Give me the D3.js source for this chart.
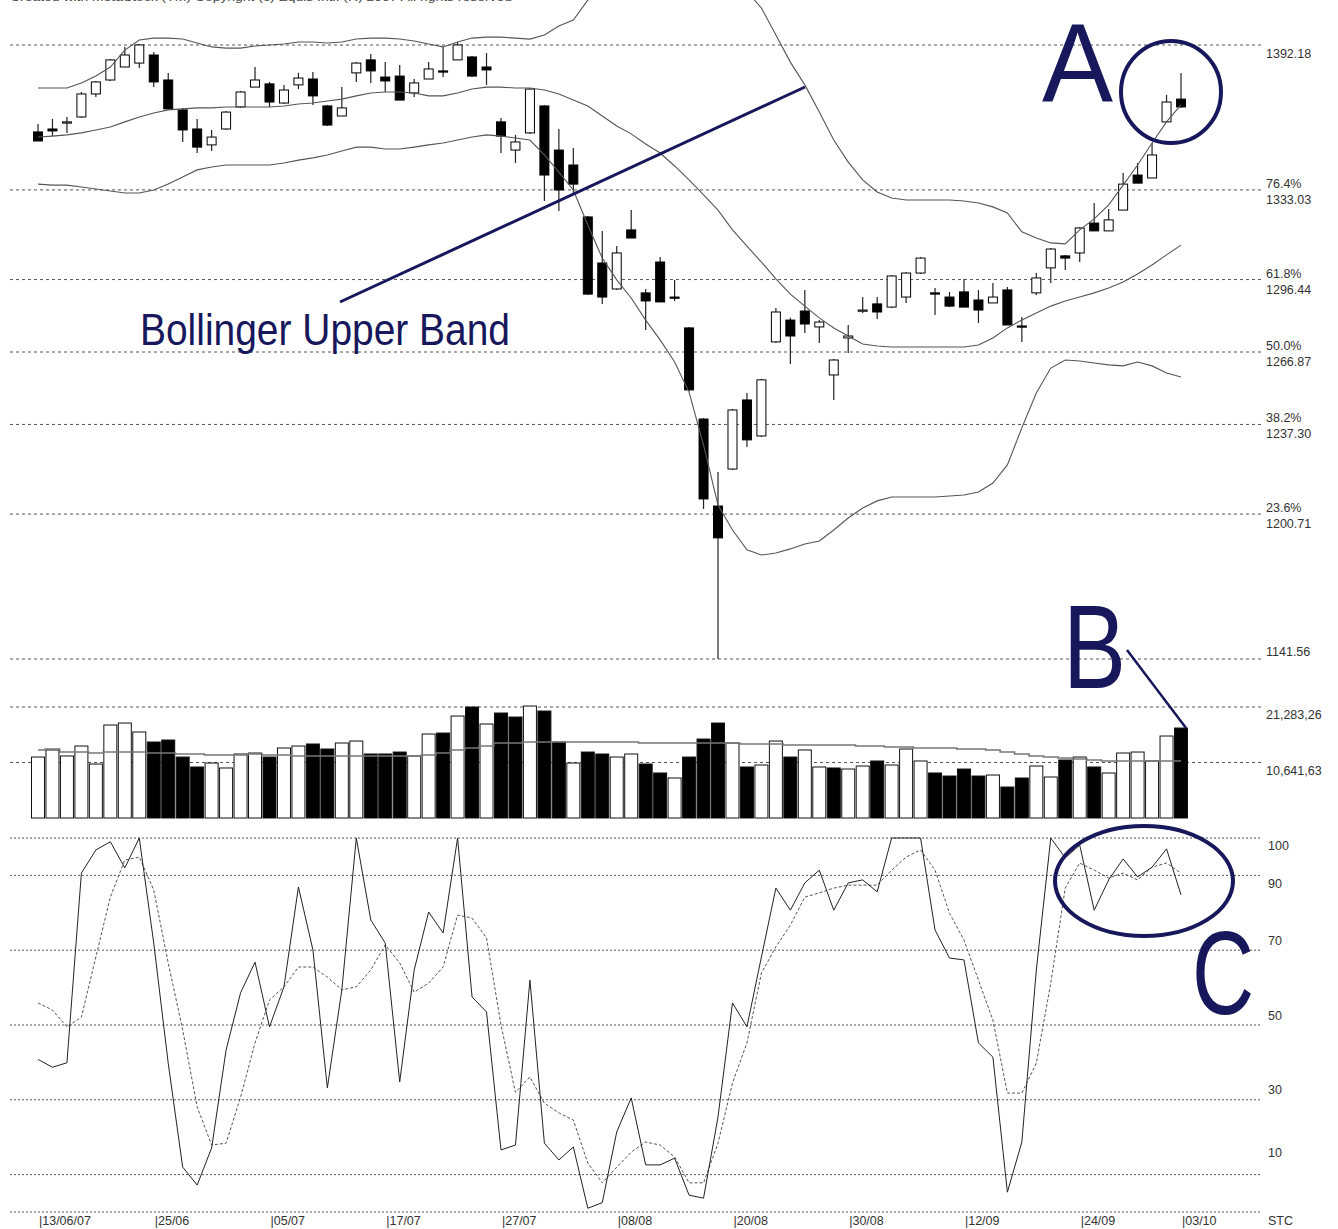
<!DOCTYPE html>
<html><head><meta charset="utf-8">
<script src="https://cdn.jsdelivr.net/npm/d3@7"></script>
<style>body{margin:0;background:#fff}svg{display:block}</style>
</head><body><svg id="c" width="1338" height="1229"></svg>
<script>
const dates = ["13/06","14/06","15/06","18/06","19/06","20/06","21/06","22/06",
"25/06","26/06","27/06","28/06","29/06","02/07","03/07","04/07",
"05/07","06/07","09/07","10/07","11/07","12/07","13/07","16/07",
"17/07","18/07","19/07","20/07","23/07","24/07","25/07","26/07",
"27/07","30/07","31/07","01/08","02/08","03/08","06/08","07/08",
"08/08","09/08","10/08","13/08","14/08","15/08","16/08","17/08",
"20/08","21/08","22/08","23/08","24/08","27/08","28/08","29/08",
"30/08","31/08","04/09","05/09","06/09","07/09","10/09","11/09",
"12/09","13/09","14/09","17/09","18/09","19/09","20/09","21/09",
"24/09","25/09","26/09","27/09","28/09","01/10","02/10","03/10"];

const open = [1356.7,1357.9,1360.3,1362.8,1372.2,1377.9,1383.2,1384.8,
1388.1,1377.9,1365.7,1357.9,1351.4,1357.9,1366.9,1375.0,
1376.3,1368.5,1375.9,1378.3,1367.3,1363.2,1380.8,1386.1,
1379.1,1379.5,1372.6,1378.3,1381.6,1386.1,1387.3,1383.2,
1360.8,1349.3,1356.3,1367.3,1349.3,1343.2,1322.0,1303.2,
1292.6,1316.7,1291.0,1303.6,1289.3,1276.7,1239.5,1204.0,
1219.1,1247.3,1232.6,1271.0,1279.9,1283.6,1277.1,1257.5,
1272.6,1283.6,1286.5,1285.2,1289.3,1299.1,1291.0,1289.3,
1291.4,1288.1,1286.9,1292.2,1277.5,1291.0,1301.2,1306.1,
1307.3,1319.5,1316.3,1324.8,1339.1,1337.9,1360.8,1370.1];
const high = [1359.9,1362.0,1362.8,1373.0,1377.5,1386.5,1391.4,1392.6,
1389.3,1380.8,1366.5,1362.0,1357.5,1365.2,1373.4,1383.2,
1377.1,1375.9,1380.8,1381.2,1367.7,1375.0,1385.2,1388.5,
1385.2,1384.0,1378.3,1385.2,1391.4,1393.4,1387.7,1388.9,
1362.4,1355.5,1374.6,1367.7,1357.9,1350.1,1322.4,1316.3,
1310.1,1324.8,1292.6,1305.6,1296.3,1277.1,1239.9,1217.9,
1243.6,1250.1,1255.9,1284.8,1280.8,1292.2,1279.9,1264.0,
1277.9,1289.3,1289.3,1298.3,1299.5,1305.6,1293.0,1291.4,
1296.7,1292.2,1295.0,1293.4,1281.2,1299.1,1309.3,1306.5,
1317.9,1327.7,1325.2,1339.9,1344.0,1352.2,1371.8,1380.8];
const low = [1353.0,1355.0,1356.3,1362.4,1371.0,1377.5,1383.2,1382.8,
1375.0,1365.7,1352.6,1348.1,1348.9,1357.5,1366.5,1375.0,
1366.9,1368.1,1374.2,1367.7,1359.1,1363.2,1377.1,1376.7,
1373.0,1369.7,1371.0,1378.3,1379.1,1386.1,1379.1,1375.9,
1348.1,1344.0,1355.9,1328.5,1324.4,1331.8,1290.1,1286.5,
1292.2,1313.4,1275.9,1287.3,1287.7,1251.0,1202.8,1141.6,
1218.7,1228.1,1232.2,1270.5,1262.0,1274.6,1270.5,1247.3,
1266.5,1282.8,1280.3,1284.8,1286.9,1298.7,1282.0,1285.2,
1285.2,1278.7,1286.9,1277.9,1271.0,1290.1,1295.0,1300.3,
1303.6,1316.3,1316.3,1324.8,1335.8,1337.9,1360.8,1366.5];
const close = [1353.0,1357.1,1360.8,1372.2,1377.1,1386.1,1388.1,1392.2,
1377.1,1366.1,1357.5,1350.5,1354.6,1364.8,1373.0,1377.9,
1368.9,1373.8,1378.7,1371.4,1359.5,1366.5,1384.8,1381.6,
1377.5,1369.7,1376.7,1382.4,1381.2,1392.2,1379.5,1382.0,
1355.0,1352.6,1374.2,1339.1,1333.0,1335.4,1290.5,1289.3,
1307.3,1313.4,1287.7,1287.3,1288.9,1251.4,1206.9,1191.0,
1243.2,1231.0,1255.5,1283.2,1273.4,1278.3,1279.1,1263.6,
1273.4,1284.0,1283.2,1297.9,1299.1,1305.2,1290.5,1285.6,
1285.2,1284.0,1289.3,1277.9,1277.1,1297.1,1308.9,1305.2,
1317.5,1316.3,1320.8,1335.4,1335.8,1347.3,1368.9,1366.9];

const bbUpper = [1374.6,1374.6,1374.6,1376.7,1379.5,1383.2,1390.1,1394.2,
1395.0,1395.0,1394.6,1393.0,1391.4,1390.9,1390.9,1391.8,
1392.2,1392.6,1393.4,1393.4,1393.0,1393.4,1394.6,1395.0,
1395.0,1394.6,1393.8,1392.6,1391.4,1393.4,1395.0,1395.4,
1395.4,1395.0,1394.6,1396.3,1399.9,1402.4,1410.5,1420.0,
1428.0,1434.0,1438.0,1440.0,1440.0,1438.0,1434.0,1428.0,
1421.0,1414.0,1407.3,1396.3,1385.2,1375.9,1364.8,1353.4,
1344.4,1337.1,1332.2,1329.7,1328.9,1328.9,1328.9,1328.9,
1328.5,1327.7,1326.1,1323.6,1315.9,1313.4,1311.4,1311.0,
1316.7,1321.2,1326.9,1335.0,1343.2,1352.2,1360.8,1367.7];
const bbMiddle = [1354.6,1355.0,1355.5,1356.3,1357.5,1358.7,1360.8,1362.8,
1364.4,1365.7,1366.1,1366.5,1366.5,1366.9,1366.9,1366.9,
1366.9,1367.3,1368.1,1368.5,1369.3,1370.1,1371.4,1372.6,
1373.0,1373.0,1372.6,1371.4,1371.4,1372.6,1374.2,1375.0,
1375.0,1374.6,1374.6,1373.8,1372.2,1369.7,1367.3,1363.2,
1359.1,1355.9,1351.8,1348.1,1342.8,1337.1,1331.0,1324.8,
1316.7,1310.1,1303.6,1296.7,1290.5,1285.6,1280.8,1276.7,
1273.4,1270.1,1269.3,1268.9,1268.9,1268.9,1268.9,1268.9,
1268.9,1269.7,1272.6,1276.7,1279.9,1282.8,1285.6,1287.7,
1289.3,1291.0,1293.0,1295.4,1298.7,1302.4,1306.5,1310.5];
const bbLower = [1335.4,1335.0,1335.0,1334.2,1333.4,1332.6,1331.8,1331.8,
1333.0,1335.4,1338.3,1341.2,1342.4,1343.2,1343.2,1343.2,
1343.2,1344.0,1345.2,1346.1,1347.3,1348.9,1350.5,1350.5,
1349.7,1349.7,1350.5,1351.4,1352.2,1353.4,1354.6,1355.5,
1355.0,1354.2,1353.4,1347.3,1340.3,1333.0,1318.7,1305.2,
1296.3,1288.9,1279.9,1271.8,1262.8,1250.5,1228.9,1204.4,
1194.2,1186.1,1184.0,1184.8,1186.5,1188.5,1189.7,1194.2,
1199.1,1203.2,1206.1,1207.7,1207.7,1207.7,1207.7,1208.1,
1208.5,1209.7,1213.4,1220.8,1235.9,1250.1,1260.3,1263.6,
1263.2,1262.4,1261.6,1261.2,1262.8,1261.2,1258.3,1256.7];

const volume = [11690,13040,11890,13800,10350,17830,18210,16490,
14570,14950,11690,9780,10540,9590,12270,12460,
11690,13420,13800,14190,13230,14380,14760,12270,
12270,12650,11890,16100,16290,19550,21280,18020,
20130,19360,21470,20510,14570,10540,12650,12270,
11690,12270,10350,8630,7670,11690,15140,18210,
14380,9780,10160,14760,11690,13040,9780,9590,
9390,9970,10930,10160,13230,10930,8630,8050,
9390,8050,8240,5940,7670,9970,7860,11120,
11690,9780,8630,12460,12650,10930,15720,17250];
const volumeMA = [13036,13227,12652,12652,12461,12652,12652,12652,
12461,12461,12269,12269,12077,12077,12077,12269,
12077,12077,11885,11885,11885,11885,11885,11885,
11885,11885,11885,12077,12461,13036,13419,13802,
14378,14378,14569,14569,14569,14569,14569,14569,
14569,14569,14378,14378,14378,14378,14378,14378,
14378,14186,14186,14186,13994,13994,13994,13994,
13994,13802,13802,13611,13611,13419,13419,13419,
13227,13227,13036,12652,12269,11885,11694,11502,
11310,11119,10927,10927,10927,10927,10927,10927];

const stochK = [40.8,38.7,39.9,90.6,96.8,99.0,92.0,100,
71.9,39.8,12.0,7.2,17.1,43.3,58.6,66.8,
49.5,60.2,86.9,70.1,33.2,59.4,100,78.1,
71.9,34.8,64.7,80.2,74.6,100,57.5,53.5,
16.6,17.9,62.0,18.4,13.9,17.4,1.0,2.5,
21.4,30.5,12.6,12.6,14.4,4.5,3.7,25.4,
55.9,49.5,68.2,86.6,80.7,88.0,91.4,80.7,
88.0,88.8,85.6,100,100,100,75.4,67.9,
67.4,45.2,41.4,5.3,18.7,64.7,100,94.7,
98.1,80.7,88.8,94.4,89.6,92.2,97.1,84.8];
const stochD = [55.9,54.0,49.5,52.1,68.2,84.2,94.1,94.9,
86.1,66.6,48.7,28.1,17.9,18.4,30.7,45.2,
56.7,60.2,65.5,65.5,62.8,59.4,60.2,64.7,
71.4,66.6,58.8,61.2,65.5,79.4,78.6,73.3,
50.0,32.0,36.1,29.1,26.5,24.6,13.1,7.8,
12.0,16.0,18.7,17.9,14.7,7.8,7.8,18.4,
34.5,45.2,63.9,70.9,76.7,84.2,85.3,86.6,
87.4,87.4,87.4,91.4,94.9,96.8,91.4,79.9,
72.7,62.0,51.3,31.8,31.8,39.8,61.2,86.6,
93.3,91.4,89.3,90.6,88.8,92.2,93.3,90.6];

const priceTicks = [1392.18,1333.03,1296.44,1266.87,1237.30,1200.71,1141.56];
const fibLabels = ["","76.4%","61.8%","50.0%","38.2%","23.6%",""];
const volumeTicks = [21283.26,10641.63];
const volumeTickLabels = ["21,283,26","10,641,63"];
const stochTicks = [100,90,70,50,30,10];
const xTickDates = ["13/06","25/06","05/07","17/07","27/07","08/08","20/08","30/08","12/09","24/09","03/10"];
const xTickLabels = ["13/06/07","25/06","05/07","17/07","27/07","08/08","20/08","30/08","12/09","24/09","03/10"];

// ---------- layout ----------
const svg = d3.select("#c");
const FONT = "'Liberation Sans', Arial, sans-serif";
const NAVY = "#17175c";
const GL = 10, GR = 1262, LX = 1266;

const x = d3.scalePoint().domain(dates).range([38, 1181]);
const yP = d3.scaleLinear().domain([1141.56, 1392.18]).range([659, 45]);
const yV = d3.scaleLinear().domain([0, 21283.26]).range([818, 707]);
const yS = d3.scaleLinear().domain([0, 100]).range([1212, 838]);

// title (clipped at top, as in the original)
svg.append("text").attr("x", 10).attr("y", 1).attr("font-family", FONT).attr("font-size", 11)
  .attr("fill", "#444").attr("textLength", 502).attr("lengthAdjust", "spacingAndGlyphs")
  .text("Created with MetaStock (TM)  Copyright (c) Equis Intl. (R) 2007 All rights reserved");

// ---------- gridlines ----------
const grid = svg.append("g").attr("stroke", "#555").attr("stroke-width", 1);
grid.selectAll("line.p").data(priceTicks).join("line")
  .attr("x1", GL).attr("x2", GR).attr("y1", d => yP(d)).attr("y2", d => yP(d))
  .attr("stroke-dasharray", "3,3");
grid.selectAll("line.v").data(volumeTicks).join("line")
  .attr("x1", GL).attr("x2", GR).attr("y1", d => yV(d)).attr("y2", d => yV(d))
  .attr("stroke-dasharray", "3,3");
grid.selectAll("line.s").data(stochTicks.concat([0])).join("line")
  .attr("x1", GL).attr("x2", GR).attr("y1", d => yS(d)).attr("y2", d => yS(d))
  .attr("stroke-dasharray", "2,2");

// ---------- axis labels ----------
const lab = svg.append("g").attr("font-family", FONT).attr("font-size", 12.5).attr("fill", "#333");
priceTicks.forEach((v, i) => {
  const y = yP(v);
  if (fibLabels[i]) {
    lab.append("text").attr("x", LX).attr("y", y - 2).text(fibLabels[i]);
    lab.append("text").attr("x", LX).attr("y", y + 14).text(v.toFixed(2));
  } else {
    lab.append("text").attr("x", LX).attr("y", i === 0 ? y + 13 : y - 3).text(v.toFixed(2));
  }
});
volumeTicks.forEach((v, i) => {
  lab.append("text").attr("x", LX).attr("y", yV(v) + 12).text(volumeTickLabels[i]);
});
const stochLabelDy = [12, 13, -5, -5, -6, -18];
stochTicks.forEach((v, i) => {
  lab.append("text").attr("x", LX + 2).attr("y", yS(v) + stochLabelDy[i]).text(v);
});
xTickDates.forEach((d, i) => {
  lab.append("text").attr("x", x(d) + 1).attr("y", 1225).text("|" + xTickLabels[i]);
});
lab.append("text").attr("x", 1268).attr("y", 1225).text("STC");

// ---------- candles ----------
const candles = dates.map((d, i) => ({ d, o: open[i], h: high[i], l: low[i], c: close[i] }));
const cg = svg.append("g");
cg.selectAll("line").data(candles).join("line")
  .attr("x1", d => x(d.d)).attr("x2", d => x(d.d))
  .attr("y1", d => yP(d.h)).attr("y2", d => yP(d.l))
  .attr("stroke", "#222").attr("stroke-width", 1.2);
cg.selectAll("rect").data(candles).join("rect")
  .attr("x", d => x(d.d) - 4.5).attr("width", 9)
  .attr("y", d => yP(Math.max(d.o, d.c)))
  .attr("height", d => Math.max(1.2, Math.abs(yP(d.o) - yP(d.c))))
  .attr("fill", d => d.c < d.o ? "#000" : "#fff")
  .attr("stroke", "#000").attr("stroke-width", 1);

// ---------- bollinger bands ----------
const bandLine = d3.line().x((v, i) => x(dates[i])).y(v => yP(v));
[bbUpper, bbMiddle, bbLower].forEach(arr => {
  svg.append("path").attr("d", bandLine(arr)).attr("fill", "none")
    .attr("stroke", "#555").attr("stroke-width", 1.1);
});

// ---------- volume ----------
const vols = dates.map((d, i) => ({ d, v: volume[i], up: i === 0 || close[i] >= close[i - 1] }));
svg.append("g").selectAll("rect").data(vols).join("rect")
  .attr("x", d => x(d.d) - 6.5).attr("width", 13)
  .attr("y", d => yV(d.v)).attr("height", d => yV(0) - yV(d.v))
  .attr("fill", d => d.up ? "#fff" : "#000").attr("stroke", "#111").attr("stroke-width", 1);
svg.append("path")
  .attr("d", d3.line().x((v, i) => x(dates[i])).y(v => yV(v)).curve(d3.curveStep)(volumeMA))
  .attr("fill", "none").attr("stroke", "#777").attr("stroke-width", 1.6);

// ---------- stochastic ----------
const sLine = d3.line().x((v, i) => x(dates[i])).y(v => yS(v));
svg.append("path").attr("d", sLine(stochD)).attr("fill", "none")
  .attr("stroke", "#555").attr("stroke-width", 1).attr("stroke-dasharray", "3,2");
svg.append("path").attr("d", sLine(stochK)).attr("fill", "none")
  .attr("stroke", "#222").attr("stroke-width", 1);

// ---------- annotations ----------
const ann = svg.append("g");
ann.append("line").attr("x1", 340).attr("y1", 302).attr("x2", 805).attr("y2", 87)
  .attr("stroke", NAVY).attr("stroke-width", 3);
ann.append("text").attr("x", 140).attr("y", 345).attr("font-family", FONT).attr("font-size", 45)
  .attr("fill", NAVY).attr("textLength", 370).attr("lengthAdjust", "spacingAndGlyphs")
  .text("Bollinger Upper Band");
ann.append("text").attr("x", 1042).attr("y", 101).attr("font-family", FONT).attr("font-size", 111)
  .attr("fill", NAVY).attr("textLength", 71).attr("lengthAdjust", "spacingAndGlyphs").text("A");
ann.append("ellipse").attr("cx", 1171).attr("cy", 92).attr("rx", 50).attr("ry", 51)
  .attr("fill", "none").attr("stroke", NAVY).attr("stroke-width", 4);
ann.append("text").attr("x", 1063).attr("y", 688).attr("font-family", FONT).attr("font-size", 118)
  .attr("fill", NAVY).attr("textLength", 63).attr("lengthAdjust", "spacingAndGlyphs").text("B");
ann.append("line").attr("x1", 1127).attr("y1", 650).attr("x2", 1186).attr("y2", 728)
  .attr("stroke", NAVY).attr("stroke-width", 2.5);
ann.append("ellipse").attr("cx", 1144).attr("cy", 881).attr("rx", 89).attr("ry", 55)
  .attr("fill", "none").attr("stroke", NAVY).attr("stroke-width", 4);
ann.append("text").attr("transform", "translate(1192,1014) scale(1,1.37)")
  .attr("font-family", FONT).attr("font-size", 86).attr("fill", NAVY).text("C");
</script>
</body></html>
